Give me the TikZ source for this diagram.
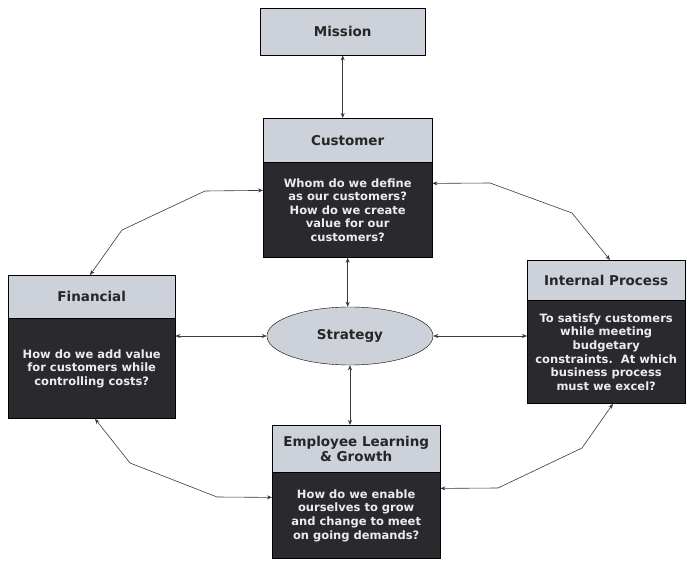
\documentclass[tikz,border=0pt]{standalone}
\usepackage{fontspec}
\setmainfont{DejaVu Sans}
\usepackage{tikz}
\usetikzlibrary{arrows.meta,shapes.geometric}

\definecolor{headfill}{HTML}{CDD1DA}
\definecolor{bodyfill}{HTML}{2A292E}
\definecolor{bodytext}{HTML}{ECECEC}
\definecolor{linkcol}{HTML}{3A3A3A}

\tikzset{
  head/.style={draw, fill=headfill, text=black!85, anchor=north west, inner sep=0pt,
    align=center, font=\fontsize{13.5}{15}\selectfont\bfseries},
  body/.style={draw, fill=bodyfill, text=bodytext, anchor=north west, inner sep=0pt,
    align=center, font=\fontsize{11.5}{13.6}\selectfont\bfseries},
  link/.style={{Stealth[length=5pt,width=4pt]}-{Stealth[length=5pt,width=4pt]}, linkcol, semithick}
}

\begin{document}
\begin{tikzpicture}[x=1pt, y=-1pt]
  \useasboundingbox (0,0) rectangle (691,569);

  % the four perspectives plus mission
  \node[head, minimum width=165, minimum height=47] (mission) at (260,8) {Mission};

  \node[head, minimum width=169, minimum height=44] (custhead) at (263,118) {Customer};
  \node[body, minimum width=169, minimum height=95] (custbody) at (custhead.south west)
    {Whom do we define\\as our customers?\\How do we create\\value for our\\customers?};

  \node[head, minimum width=167, minimum height=43] (finhead) at (8,275) {Financial};
  \node[body, minimum width=167, minimum height=100] (finbody) at (finhead.south west)
    {How do we add value\\for customers while\\controlling costs?};

  \node[head, minimum width=158, minimum height=40] (inthead) at (527,260) {Internal Process};
  \node[body, minimum width=158, minimum height=103] (intbody) at (inthead.south west)
    {To satisfy customers\\while meeting\\budgetary\\constraints.\ \ At which\\business process\\must we excel?};

  \node[head, minimum width=168, minimum height=47] (emphead) at (272,425) {Employee Learning\\\& Growth};
  \node[body, minimum width=168, minimum height=86] (empbody) at (emphead.south west)
    {How do we enable\\ourselves to grow\\and change to meet\\on going demands?};

  \node[ellipse, draw, fill=headfill, minimum width=166, minimum height=58, inner sep=0pt,
    font=\fontsize{13.5}{15}\selectfont\bfseries, text=black!85] (strategy) at (350,336) {Strategy};

  % straight links
  \draw[link] (mission.south) -- (mission.south |- custhead.north);
  \draw[link] (custbody.south) -- (custbody.south |- strategy.north);
  \draw[link] (strategy.south) -- (strategy.south |- emphead.north);
  \draw[link] (strategy.west) -- (strategy.west -| finbody.east);
  \draw[link] (strategy.east) -- (strategy.east -| intbody.west);

  % the outer ring
  \draw[link] ([yshift=-28pt]custbody.north west) -- (205,191) -- (122,230) -- ([xshift=82pt]finhead.north west);
  \draw[link] ([yshift=-21pt]custbody.north east) -- (490,183) -- (572,213) -- ([xshift=83pt]inthead.north west);
  \draw[link] ([xshift=87pt]finbody.south west) -- (130,463) -- (217,497) -- ([yshift=-25pt]empbody.north west);
  \draw[link] ([xshift=86pt]intbody.south west) -- (582,448) -- (498,488) -- ([yshift=-16pt]empbody.north east);
\end{tikzpicture}
\end{document}
